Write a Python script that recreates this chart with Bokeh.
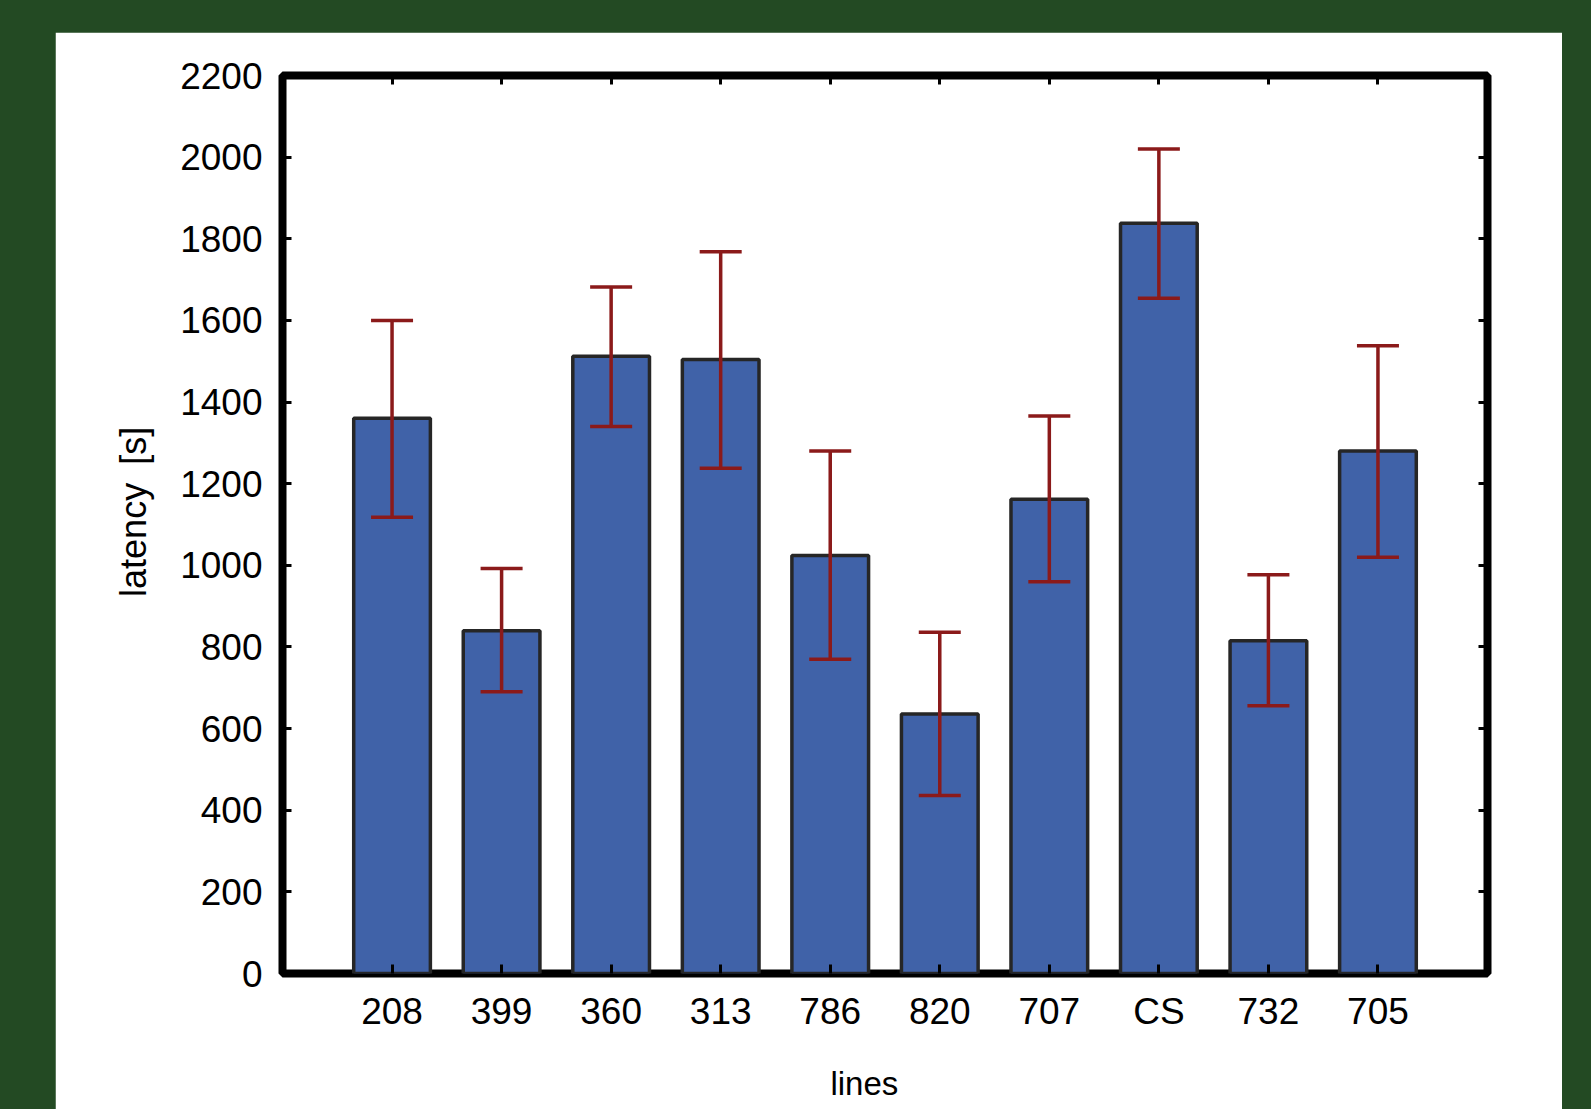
from bokeh.plotting import figure
from bokeh.models import (ColumnDataSource, FactorRange, Range1d, Whisker, TeeHead,
                          LinearAxis, CategoricalAxis, FixedTicker, CustomJSTickFormatter)
from bokeh.layouts import column
from bokeh.embed import file_html
from bokeh.resources import INLINE

# ---- data ----
lines = ["208", "399", "360", "313", "786", "820", "707", "CS", "732", "705"]
latency = [1360, 840, 1512, 1504, 1024, 636, 1162, 1838, 815, 1280]
err_upper = [1600, 992, 1682, 1768, 1280, 836, 1366, 2020, 977, 1538]
err_lower = [1118, 690, 1340, 1238, 770, 436, 960, 1654, 656, 1020]
y_ticks = [0, 200, 400, 600, 800, 1000, 1200, 1400, 1600, 1800, 2000, 2200]

FONT = "Liberation Sans"
BAR_FILL = "#4062a8"
BAR_EDGE = "#262626"
ERR_COL = "#8b1a1a"
BG_GREEN = "#234a23"

src = ColumnDataSource(dict(lines=lines, latency=latency, upper=err_upper, lower=err_lower))

p = figure(width=1507, height=1077,
           x_range=FactorRange(factors=lines, range_padding=0.1),
           y_range=Range1d(0, 2200),
           output_backend="svg", toolbar_location=None,
           min_border_left=227, min_border_right=75,
           min_border_top=43, min_border_bottom=136,
           background_fill_color="white", border_fill_color="white",
           outline_line_color="black", outline_line_width=8)
p.margin = (32, 29, 0, 55)
p.xgrid.visible = False
p.ygrid.visible = False

p.vbar(x="lines", top="latency", width=0.7, bottom=0, source=src,
       fill_color=BAR_FILL, line_color=BAR_EDGE, line_width=3.5)

w = Whisker(source=src, base="lines", upper="upper", lower="lower",
            line_color=ERR_COL, line_width=3.5, level="annotation",
            upper_head=TeeHead(size=42, line_color=ERR_COL, line_width=3.5),
            lower_head=TeeHead(size=42, line_color=ERR_COL, line_width=3.5))
p.add_layout(w)

def style_axis(ax):
    ax.axis_line_color = None
    ax.major_tick_in = 9
    ax.major_tick_out = 0
    ax.major_tick_line_width = 3
    ax.major_tick_line_color = "black"
    ax.minor_tick_line_color = None
    ax.major_label_text_font = FONT
    ax.major_label_text_font_size = "37px"
    ax.major_label_text_color = "black"
    ax.axis_label_text_font = FONT
    ax.axis_label_text_font_size = "33px"
    ax.axis_label_text_font_style = "normal"
    ax.axis_label_text_color = "black"

p.yaxis.ticker = FixedTicker(ticks=y_ticks)
style_axis(p.xaxis[0])
style_axis(p.yaxis[0])
p.xaxis.axis_label = "lines\u2003\u2005"
p.yaxis.axis_label = "\u2002\u2009latency\u2002[s]"
p.yaxis.axis_label_text_font_size = "36px"
p.xaxis.major_label_standoff = 17
p.xaxis.axis_label_standoff = 30
p.yaxis.major_label_standoff = 20
p.yaxis.axis_label_standoff = 23

blank = "return ''"
raxis = LinearAxis(ticker=FixedTicker(ticks=y_ticks),
                   formatter=CustomJSTickFormatter(code=blank))
style_axis(raxis)
raxis.major_label_standoff = 0
p.add_layout(raxis, "right")

taxis = CategoricalAxis(formatter=CustomJSTickFormatter(code=blank))
style_axis(taxis)
taxis.major_label_standoff = 0
p.add_layout(taxis, "above")

root = column(p, width=1591, height=1109, styles={"background-color": BG_GREEN})

open("out.html", "w").write(file_html(root, INLINE))
